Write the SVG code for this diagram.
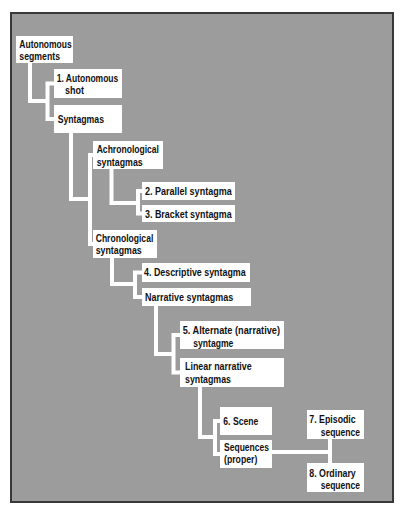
<svg xmlns="http://www.w3.org/2000/svg" width="405" height="518" viewBox="0 0 405 518">
<style>
.box{fill:#fff}
.t{font-family:"Liberation Sans",Arial,sans-serif;font-size:11px;fill:#111;font-weight:bold}
.c{fill:none;stroke:#fff;stroke-width:4;stroke-linejoin:miter}
</style>
<rect x="0" y="0" width="405" height="518" fill="#fff"/>
<rect x="11" y="13" width="382" height="489" fill="#9c9c9c" stroke="#383838" stroke-width="2"/>
<g id="connectors" class="c">
<path d="M30 63V101H47.5M54 83.5H47.5V119H54"/>
<path d="M71 133V199H90M93 155H90V244H93"/>
<path d="M111.5 169V203H138M142 191H138V213.5H142"/>
<path d="M112 258V284H135M142 272.5H135V297H142"/>
<path d="M156 306V354H173.5M180 335H173.5V372.5H180"/>
<path d="M200 387V437H215M220 421H215V454H220"/>
<path d="M272 452H330M330 439V463"/>
</g>
<g id="n-autonomous-segments"><rect class="box" x="16" y="36" width="57" height="27"/>
<text class="t" x="19.3" y="47.5" textLength="52.4" lengthAdjust="spacingAndGlyphs">Autonomous</text>
<text class="t" x="19.3" y="60" textLength="40.7" lengthAdjust="spacingAndGlyphs">segments</text></g>
<g id="n-autonomous-shot"><rect class="box" x="54" y="69" width="68" height="29"/>
<text class="t" x="56.7" y="81.5" textLength="61.6" lengthAdjust="spacingAndGlyphs">1. Autonomous</text>
<text class="t" x="65" y="94" textLength="19" lengthAdjust="spacingAndGlyphs">shot</text></g>
<g id="n-syntagmas"><rect class="box" x="54" y="105" width="68" height="28"/>
<text class="t" x="57.7" y="123" textLength="46.3" lengthAdjust="spacingAndGlyphs">Syntagmas</text></g>
<g id="n-achronological"><rect class="box" x="93" y="141" width="70" height="28"/>
<text class="t" x="96.7" y="153" textLength="62.3" lengthAdjust="spacingAndGlyphs">Achronological</text>
<text class="t" x="96.7" y="165.5" textLength="46" lengthAdjust="spacingAndGlyphs">syntagmas</text></g>
<g id="n-parallel"><rect class="box" x="142" y="182" width="93" height="18"/>
<text class="t" x="145" y="194.5" textLength="86.7" lengthAdjust="spacingAndGlyphs">2. Parallel syntagma</text></g>
<g id="n-bracket"><rect class="box" x="142" y="205" width="93" height="17"/>
<text class="t" x="145" y="217.5" textLength="86.7" lengthAdjust="spacingAndGlyphs">3. Bracket syntagma</text></g>
<g id="n-chronological"><rect class="box" x="93" y="230" width="64" height="28"/>
<text class="t" x="95.7" y="241.5" textLength="57.6" lengthAdjust="spacingAndGlyphs">Chronological</text>
<text class="t" x="95.7" y="254" textLength="46" lengthAdjust="spacingAndGlyphs">syntagmas</text></g>
<g id="n-descriptive"><rect class="box" x="142" y="263" width="108" height="19"/>
<text class="t" x="144" y="276" textLength="101.7" lengthAdjust="spacingAndGlyphs">4. Descriptive syntagma</text></g>
<g id="n-narrative"><rect class="box" x="142" y="288" width="109" height="18"/>
<text class="t" x="145" y="300.5" textLength="88.3" lengthAdjust="spacingAndGlyphs">Narrative syntagmas</text></g>
<g id="n-alternate"><rect class="box" x="180" y="321" width="104" height="28"/>
<text class="t" x="182.7" y="334" textLength="97.3" lengthAdjust="spacingAndGlyphs">5. Alternate (narrative)</text>
<text class="t" x="193.3" y="346.5" textLength="40" lengthAdjust="spacingAndGlyphs">syntagme</text></g>
<g id="n-linear"><rect class="box" x="180" y="358" width="104" height="29"/>
<text class="t" x="185" y="370" textLength="66.7" lengthAdjust="spacingAndGlyphs">Linear narrative</text>
<text class="t" x="185" y="382.5" textLength="46" lengthAdjust="spacingAndGlyphs">syntagmas</text></g>
<g id="n-scene"><rect class="box" x="220" y="407" width="52" height="28"/>
<text class="t" x="223.3" y="425" textLength="35" lengthAdjust="spacingAndGlyphs">6. Scene</text></g>
<g id="n-sequences"><rect class="box" x="220" y="440" width="52" height="28"/>
<text class="t" x="224" y="450.5" textLength="45" lengthAdjust="spacingAndGlyphs">Sequences</text>
<text class="t" x="224" y="463" textLength="33.3" lengthAdjust="spacingAndGlyphs">(proper)</text></g>
<g id="n-episodic"><rect class="box" x="307" y="410" width="57" height="29"/>
<text class="t" x="309.3" y="423" textLength="46.4" lengthAdjust="spacingAndGlyphs">7. Episodic</text>
<text class="t" x="320.7" y="435.5" textLength="39.3" lengthAdjust="spacingAndGlyphs">sequence</text></g>
<g id="n-ordinary"><rect class="box" x="307" y="463" width="57" height="29"/>
<text class="t" x="309.3" y="476.5" textLength="46.4" lengthAdjust="spacingAndGlyphs">8. Ordinary</text>
<text class="t" x="320.7" y="489" textLength="39.3" lengthAdjust="spacingAndGlyphs">sequence</text></g>
</svg>
